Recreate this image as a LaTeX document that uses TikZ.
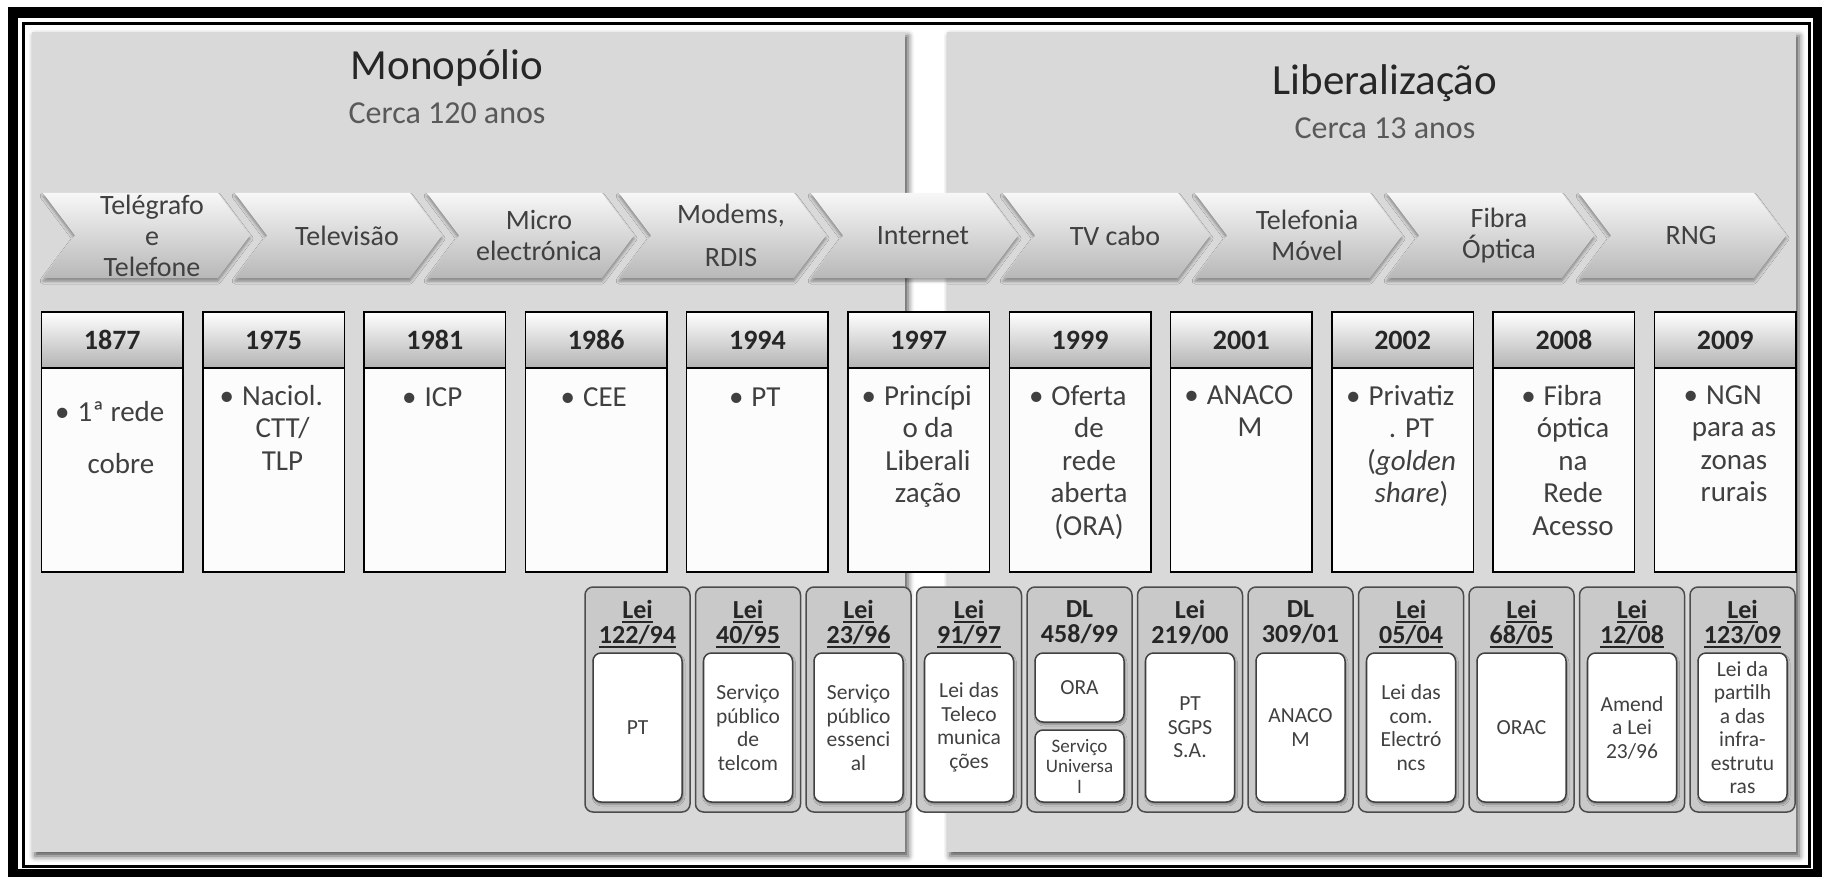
\documentclass[tikz,border=0pt]{standalone}
\usepackage{fontspec}
\setmainfont{Carlito}
\usetikzlibrary{shadows.blur}

\definecolor{panelgray}{HTML}{D9D9D9}
\definecolor{leigray}{HTML}{C9C9C9}
\definecolor{txtdark}{HTML}{262626}
\definecolor{txtgray}{HTML}{404040}
\definecolor{subgray}{HTML}{595959}
\definecolor{chevtop}{HTML}{F7F7F7}
\definecolor{chevbot}{HTML}{B8B8B8}
\definecolor{headbot}{HTML}{B3B3B3}

\newcommand{\leiul}[1]{\setbox0\hbox{#1}\rlap{\rule[-4.5pt]{\wd0}{2pt}}\box0}
\newcommand{\bul}{\llap{\textbullet\hspace{8pt}}}

\tikzset{
  panel/.style={fill=panelgray, blur shadow={shadow xshift=3pt, shadow yshift=-4pt, shadow blur radius=6pt, shadow opacity=70}},
  title/.style={anchor=base, inner sep=0pt, text=txtdark, font=\fontsize{43}{50}\selectfont},
  subtitle/.style={anchor=base, inner sep=0pt, text=subgray, font=\fontsize{32}{38}\selectfont},
  chev/.style={top color=chevtop, bottom color=chevbot, blur shadow={shadow xshift=0pt, shadow yshift=-3pt, shadow blur radius=3pt, shadow opacity=40}},
  chevtext/.style={align=center, inner sep=0pt, text=txtgray, font=\fontsize{28}{31}\selectfont},
  yearhead/.style={draw=black, line width=1.5pt, top color=white, bottom color=headbot, minimum width=141.5pt, minimum height=56pt, inner sep=0pt, text=txtdark, font=\bfseries\fontsize{28}{32}\selectfont},
  yearbody/.style={draw=black, line width=1.5pt, fill=white!99!black, minimum width=141.5pt, minimum height=204pt, inner sep=0pt},
  yeartext/.style={anchor=north, align=center, inner sep=0pt, text=txtgray, font=\fontsize{29}{32.5}\selectfont, execute at begin node={\rule{0pt}{21pt}}},
  leibox/.style={draw=black!70, line width=1.5pt, fill=leigray, rounded corners=8pt, minimum width=105pt, minimum height=225pt, inner sep=0pt},
  leihead/.style={anchor=north, align=center, inner sep=0pt, text=txtdark, font=\bfseries\fontsize{26}{25}\selectfont, execute at begin node={\rule{0pt}{18pt}}},
  leiinner/.style={draw=black!75, line width=1.5pt, fill=white, rounded corners=8pt, minimum width=89pt, minimum height=149pt, inner sep=0pt, align=center, text=txtgray, font=\fontsize{21.5}{23.5}\selectfont, blur shadow={shadow xshift=1pt, shadow yshift=-2pt, shadow blur radius=2pt, shadow opacity=40}}
}

\begin{document}
\begin{tikzpicture}[x=1pt,y=-1pt]
    \useasboundingbox (0,0) rectangle (1822,877);
    % Frame
    \draw[line width=10.5pt] (13,12.5) rectangle (1818,874);
    \draw[line width=3pt] (23.5,23.5) rectangle (1809,866.5);

    % Panels
    \fill[panel] (32,32) rectangle (905,852);
    \fill[panel] (947,32) rectangle (1796,852);
    \node[title] (mono) at (447,80) {Monopólio};
    \node[subtitle] (monoyrs) at (447,124) {Cerca 120 anos};
    \node[title] (lib) at (1385,95) {Liberalização};
    \node[subtitle] (libyrs) at (1385,139) {Cerca 13 anos};

    % Chevrons
    \path[chev] (43,193) -- ++(175,0) -- ++(32,42.5) -- ++(-32,42.5) -- ++(-175,0) -- ++(32,-42.5) -- cycle;
    \node[chevtext] (c1) at (152,235.5) {Telégrafo\\e\\Telefone};
    \path[chev] (235,193) -- ++(175,0) -- ++(32,42.5) -- ++(-32,42.5) -- ++(-175,0) -- ++(32,-42.5) -- cycle;
    \node[chevtext] (c2) at (347,235.5) {Televisão};
    \path[chev] (427,193) -- ++(175,0) -- ++(32,42.5) -- ++(-32,42.5) -- ++(-175,0) -- ++(32,-42.5) -- cycle;
    \node[chevtext] (c3) at (539,235.5) {Micro\\electrónica};
    \path[chev] (619,193) -- ++(175,0) -- ++(32,42.5) -- ++(-32,42.5) -- ++(-175,0) -- ++(32,-42.5) -- cycle;
    \node[chevtext] (c4) at (731,235.5) {Modems,\\[12pt]RDIS};
    \path[chev] (811,193) -- ++(175,0) -- ++(32,42.5) -- ++(-32,42.5) -- ++(-175,0) -- ++(32,-42.5) -- cycle;
    \node[chevtext] (c5) at (923,235.5) {Internet};
    \path[chev] (1003,193) -- ++(175,0) -- ++(32,42.5) -- ++(-32,42.5) -- ++(-175,0) -- ++(32,-42.5) -- cycle;
    \node[chevtext] (c6) at (1115,235.5) {TV cabo};
    \path[chev] (1195,193) -- ++(175,0) -- ++(32,42.5) -- ++(-32,42.5) -- ++(-175,0) -- ++(32,-42.5) -- cycle;
    \node[chevtext] (c7) at (1307,235.5) {Telefonia\\Móvel};
    \path[chev] (1387,193) -- ++(175,0) -- ++(32,42.5) -- ++(-32,42.5) -- ++(-175,0) -- ++(32,-42.5) -- cycle;
    \node[chevtext] (c8) at (1499,235.5) {Fibra\\Óptica};
    \path[chev] (1579,193) -- ++(175,0) -- ++(32,42.5) -- ++(-32,42.5) -- ++(-175,0) -- ++(32,-42.5) -- cycle;
    \node[chevtext] (c9) at (1691,235.5) {RNG};

    % Years
    \node[yearhead] (h1877) at (112.25,340) {1877};
    \node[yearbody] (b1877) at (112.25,470) {};
    \node[yeartext] (t1877) at (121,401) {\bul 1ª rede\\[20pt]cobre};
    \node[yearhead] (h1975) at (273.55,340) {1975};
    \node[yearbody] (b1975) at (273.55,470) {};
    \node[yeartext] (t1975) at (282.5,385) {\bul Naciol.\\CTT/\\TLP};
    \node[yearhead] (h1981) at (434.85,340) {1981};
    \node[yearbody] (b1981) at (434.85,470) {};
    \node[yeartext] (t1981) at (443.5,385) {\bul ICP};
    \node[yearhead] (h1986) at (596.15,340) {1986};
    \node[yearbody] (b1986) at (596.15,470) {};
    \node[yeartext] (t1986) at (605,385) {\bul CEE};
    \node[yearhead] (h1994) at (757.45,340) {1994};
    \node[yearbody] (b1994) at (757.45,470) {};
    \node[yeartext] (t1994) at (766,385) {\bul PT};
    \node[yearhead] (h1997) at (918.75,340) {1997};
    \node[yearbody] (b1997) at (918.75,470) {};
    \node[yeartext] (t1997) at (928,385) {\bul Princípi\\o da\\Liberali\\zação};
    \node[yearhead] (h1999) at (1080.05,340) {1999};
    \node[yearbody] (b1999) at (1080.05,470) {};
    \node[yeartext] (t1999) at (1089,385) {\bul Oferta\\de\\rede\\aberta\\(ORA)};
    \node[yearhead] (h2001) at (1241.35,340) {2001};
    \node[yearbody] (b2001) at (1241.35,470) {};
    \node[yeartext] (t2001) at (1250,385) {\bul ANACO\\M};
    \node[yearhead] (h2002) at (1402.65,340) {2002};
    \node[yearbody] (b2002) at (1402.65,470) {};
    \node[yeartext] (t2002) at (1411.5,385) {\bul Privatiz\\. PT\\(\textit{golden}\\\textit{share})};
    \node[yearhead] (h2008) at (1563.95,340) {2008};
    \node[yearbody] (b2008) at (1563.95,470) {};
    \node[yeartext] (t2008) at (1573,385) {\bul Fibra\\óptica\\na\\Rede\\Acesso};
    \node[yearhead] (h2009) at (1725.25,340) {2009};
    \node[yearbody] (b2009) at (1725.25,470) {};
    \node[yeartext] (t2009) at (1734,385) {\bul NGN\\para as\\zonas\\rurais};

    % Laws
    \node[leibox] (lei94) at (637.5,699.5) {};
    \node[leihead] (hd94) at (637.5,600) {\leiul{Lei}\\\leiul{122/94}};
    \node[leiinner] (in94) at (637.5,727.5) {PT};
    \node[leibox] (lei95) at (748,699.5) {};
    \node[leihead] (hd95) at (748,600) {\leiul{Lei}\\\leiul{40/95}};
    \node[leiinner] (in95) at (748,727.5) {Serviço\\público\\de\\telcom};
    \node[leibox] (lei96) at (858.5,699.5) {};
    \node[leihead] (hd96) at (858.5,600) {\leiul{Lei}\\\leiul{23/96}};
    \node[leiinner] (in96) at (858.5,727.5) {Serviço\\público\\essenci\\al};
    \node[leibox] (lei97) at (969,699.5) {};
    \node[leihead] (hd97) at (969,600) {\leiul{Lei}\\\leiul{91/97}};
    \node[leiinner] (in97) at (969,727.5) {Lei das\\Teleco\\munica\\ções};
    \node[leibox] (dl99) at (1079.5,699.5) {};
    \node[leihead] (hd99) at (1079.5,600) {DL\\458/99};
    \node[leiinner, minimum height=69pt] (in99a) at (1079.5,687.5) {ORA};
    \node[leiinner, minimum height=72pt, font=\fontsize{19}{20.5}\selectfont] (in99b) at (1079.5,766) {Serviço\\Universa\\l};
    \node[leibox] (lei00) at (1190,699.5) {};
    \node[leihead] (hd00) at (1190,600) {Lei\\219/00};
    \node[leiinner] (in00) at (1190,727.5) {PT\\SGPS\\S.A.};
    \node[leibox] (dl01) at (1300.5,699.5) {};
    \node[leihead] (hd01) at (1300.5,600) {DL\\309/01};
    \node[leiinner] (in01) at (1300.5,727.5) {ANACO\\M};
    \node[leibox] (lei04) at (1411,699.5) {};
    \node[leihead] (hd04) at (1411,600) {\leiul{Lei}\\\leiul{05/04}};
    \node[leiinner] (in04) at (1411,727.5) {Lei das\\com.\\Electró\\ncs};
    \node[leibox] (lei05) at (1521.5,699.5) {};
    \node[leihead] (hd05) at (1521.5,600) {\leiul{Lei}\\\leiul{68/05}};
    \node[leiinner] (in05) at (1521.5,727.5) {ORAC};
    \node[leibox] (lei08) at (1632,699.5) {};
    \node[leihead] (hd08) at (1632,600) {\leiul{Lei}\\\leiul{12/08}};
    \node[leiinner] (in08) at (1632,727.5) {Amend\\a Lei\\23/96};
    \node[leibox] (lei09) at (1742.5,699.5) {};
    \node[leihead] (hd09) at (1742.5,600) {\leiul{Lei}\\\leiul{123/09}};
    \node[leiinner] (in09) at (1742.5,727.5) {Lei da\\partilh\\a das\\infra-\\estrutu\\ras};
\end{tikzpicture}
\end{document}
